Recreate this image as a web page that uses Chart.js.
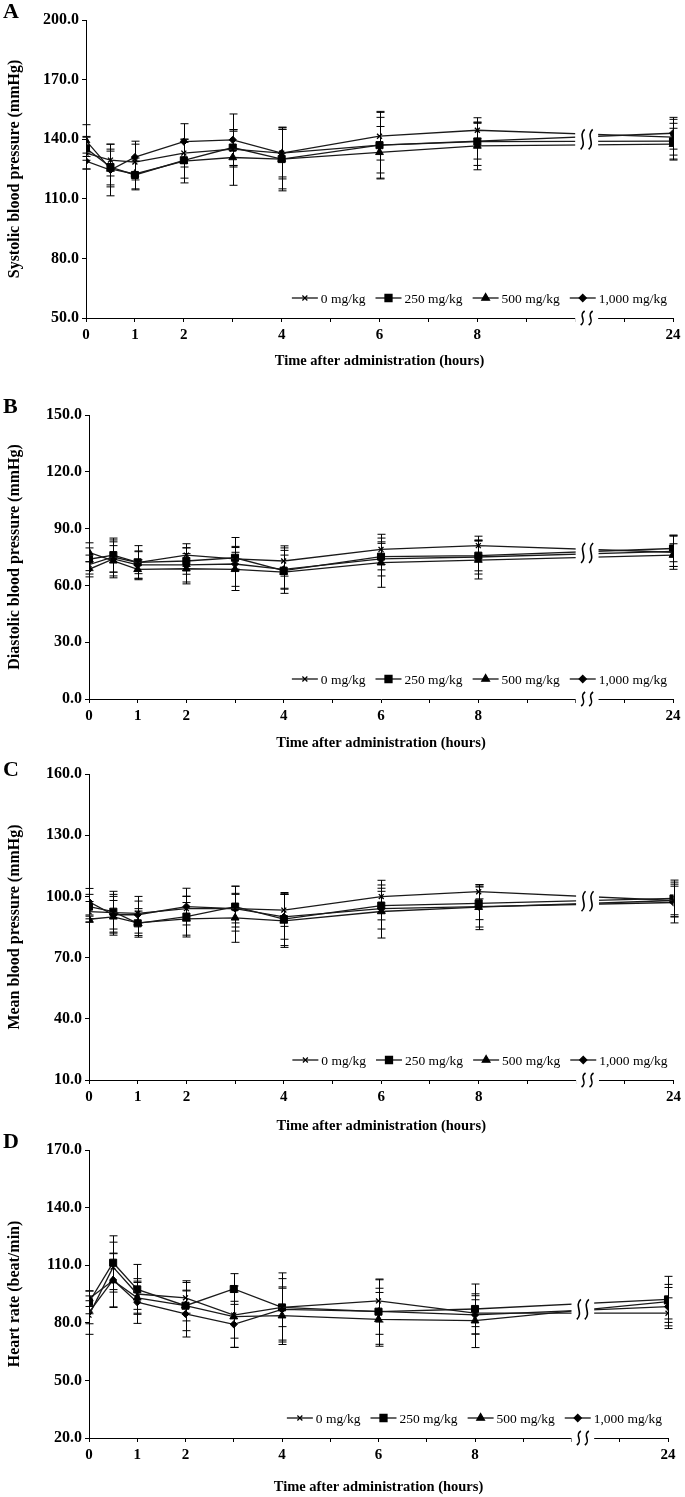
<!DOCTYPE html>
<html>
<head>
<meta charset="utf-8">
<script src="https://cdn.jsdelivr.net/npm/chart.js@4.4.1/dist/chart.umd.min.js"></script>
<style>
    body { margin: 0; background: #fff; width: 685px; height: 1497px; position: relative; overflow: hidden; }
    .panel { position: absolute; left: 0; width: 685px; }
</style>
</head>
<body>
<div class="panel" id="wrapA"><canvas id="chartA"></canvas></div>
<div class="panel" id="wrapB"><canvas id="chartB"></canvas></div>
<div class="panel" id="wrapC"><canvas id="chartC"></canvas></div>
<div class="panel" id="wrapD"><canvas id="chartD"></canvas></div>
<script>
// ================= DATOS =================
const times = [0, 0.5, 1, 2, 3, 4, 6, 8, 24];
const doseLabels = ['0 mg/kg', '250 mg/kg', '500 mg/kg', '1,000 mg/kg'];
const xTickLabels = { 0: '0', 1: '1', 2: '2', 4: '4', 6: '6', 8: '8', 12: '24' };

// A - systolic
const sbpTicks = [50, 80, 110, 140, 170, 200];
const sbp0    = [133, 129.5, 128.5, 133, 135, 133, 141.5, 144.5, 141];
const sbp250  = [135.4, 126, 122, 129.4, 135.8, 130, 137, 138.8, 139];
const sbp500  = [139.3, 125, 122.5, 129, 130.8, 130, 133.4, 136.6, 137.5];
const sbp1000 = [129, 124.5, 131, 138.8, 139.7, 133, 137, 139, 143];
const sbpSd0    = [8, 8, 9, 7, 9, 12, 12, 4, 9];
const sbpSd250  = [6, 9, 7, 9, 9, 15, 17, 12, 9];
const sbpSd500  = [8, 9, 8, 11, 14, 16, 13, 12, 8];
const sbpSd1000 = [4, 13, 8, 9, 13, 13, 14, 9, 8];

// B - diastolic
const dbpTicks = [0, 30, 60, 90, 120, 150];
const dbp0    = [71, 75, 72, 76, 74, 72.9, 79, 81, 77.5];
const dbp250  = [73.8, 76, 72.2, 72.9, 74.6, 67.8, 75.2, 75.7, 79.5];
const dbp500  = [77.5, 73, 68.5, 68.8, 68.5, 67, 72, 73.4, 76];
const dbp1000 = [68.5, 74, 70.8, 70.8, 71.3, 68.5, 74, 75, 78];
const dbpSd0    = [5, 8, 9, 6, 6, 8, 8, 5, 9];
const dbpSd250  = [6, 9, 6, 7, 6, 12, 7, 8, 7];
const dbpSd500  = [5, 8, 5, 8, 9, 9, 13, 10, 6];
const dbpSd1000 = [4, 10, 7, 9, 14, 10, 9, 9, 8];

// C - mean
const mapTicks = [10, 40, 70, 100, 130, 160];
const map0    = [92.5, 92, 91.7, 94, 94, 93.3, 99.9, 102.3, 98];
const map250  = [95, 92.5, 86.8, 90.1, 95, 88.9, 95.5, 96.6, 99];
const map500  = [88.8, 90, 87, 89, 89.5, 88, 92.6, 94.7, 98];
const map1000 = [97.4, 91, 91, 95, 94, 90, 94, 95, 97];
const mapSd0    = [5, 8, 6, 6, 7, 8, 8, 3.5, 7];
const mapSd250  = [6, 10, 6, 10, 10, 13, 7, 8, 9];
const mapSd500  = [1.5, 8, 7, 8, 12, 13, 13, 11, 8];
const mapSd1000 = [6.5, 10, 9, 9, 11, 11, 10, 10, 10];

// D - heart rate
const hrTicks = [20, 50, 80, 110, 140, 170];
const hr0    = [84, 109, 95, 93, 84, 88, 91.4, 85, 85];
const hr250  = [90.7, 111.3, 97.4, 88.9, 97.6, 88, 85.8, 87.2, 92.2];
const hr500  = [92.5, 102, 93, 89, 83.2, 83.7, 81.8, 81.1, 91];
const hr1000 = [85.5, 102.3, 90.7, 84.6, 79.2, 87, 86, 84.1, 88.4];
const hrSd0    = [10, 13, 8, 8, 12, 10, 11, 7, 8];
const hrSd250  = [6, 14, 13, 13, 8, 18, 17, 13, 12];
const hrSd500  = [4, 14, 8, 8, 16, 15, 14, 14, 9];
const hrSd1000 = [6, 14, 11, 12, 12, 16, 12, 10, 10];

// 24 h sits after the axis break, at position 12
const timeToPos = t => (t === 24 ? 12 : t);
const breakFrom = 10, breakTo = 10.47;

const SERIF = '"Liberation Serif", "Times New Roman", serif';
const markers = [
    { style: 'crossRot', r: 3.5, bw: 1.3 },
    { style: 'rect', r: 5, bw: 1 },
    { style: 'triangle', r: 4.5, bw: 1 },
    { style: 'rectRot', r: 3.6, bw: 1 }
];

const panels = [
    { id: 'A', top: 0, titleY: 362, letterY: 18, plot: { top: 20, bottom: 318, left: 86, right: 673 },
      yTitle: 'Systolic blood pressure (mmHg)', yTicks: sbpTicks,
      series: [sbp0, sbp250, sbp500, sbp1000], sd: [sbpSd0, sbpSd250, sbpSd500, sbpSd1000] },
    { id: 'B', top: 375, titleY: 744, letterY: 413, plot: { top: 415, bottom: 699, left: 89, right: 673 },
      yTitle: 'Diastolic blood pressure (mmHg)', yTicks: dbpTicks,
      series: [dbp0, dbp250, dbp500, dbp1000], sd: [dbpSd0, dbpSd250, dbpSd500, dbpSd1000] },
    { id: 'C', top: 755, titleY: 1127, letterY: 776, plot: { top: 774, bottom: 1080, left: 89, right: 674 },
      yTitle: 'Mean blood pressure (mmHg)', yTicks: mapTicks,
      series: [map0, map250, map500, map1000], sd: [mapSd0, mapSd250, mapSd500, mapSd1000] },
    { id: 'D', top: 1125, titleY: 1488, letterY: 1148, plot: { top: 1150, bottom: 1438, left: 89, right: 668 },
      yTitle: 'Heart rate (beat/min)', yTicks: hrTicks,
      series: [hr0, hr250, hr500, hr1000], sd: [hrSd0, hrSd250, hrSd500, hrSd1000] }
];

// ================= PLUGINS =================
function squiggle(ctx, cx, cy, h) {
    [-4, 4].forEach(dx => {
        const x = cx + dx;
        ctx.beginPath();
        ctx.moveTo(x + 2, cy - h / 2);
        ctx.bezierCurveTo(x - 5, cy - h / 6, x + 5, cy + h / 6, x - 2, cy + h / 2);
        ctx.stroke();
    });
}

const errorBreakPlugin = {
    id: 'errbreak',
    afterDatasetsDraw(chart, args, opts) {
        const { ctx, chartArea: { top, bottom }, scales: { x, y } } = chart;
        ctx.save();
        ctx.strokeStyle = '#000';
        ctx.lineWidth = 1;
        // error bars (mean ± SD)
        chart.data.datasets.forEach((ds, i) => {
            ds.data.forEach((pt, j) => {
                const sd = opts.sd[i][j];
                const px = Math.round(x.getPixelForValue(pt.x)) + 0.5;
                const y1 = y.getPixelForValue(pt.y + sd);
                const y2 = y.getPixelForValue(pt.y - sd);
                ctx.beginPath();
                ctx.moveTo(px, y1); ctx.lineTo(px, y2);
                ctx.moveTo(px - 4, y1); ctx.lineTo(px + 4, y1);
                ctx.moveTo(px - 4, y2); ctx.lineTo(px + 4, y2);
                ctx.stroke();
            });
        });
        // axis break
        const x1 = x.getPixelForValue(breakFrom);
        const x2 = x.getPixelForValue(breakTo);
        ctx.fillStyle = '#fff';
        ctx.fillRect(x1, top - 2, x2 - x1, bottom - top + 8);
        const mid = (breakFrom + breakTo) / 2;
        const f = (mid - 8) / 4;
        const vals = chart.data.datasets.map(ds => ds.data[7].y + (ds.data[8].y - ds.data[7].y) * f);
        const cy = y.getPixelForValue(vals.reduce((a, b) => a + b, 0) / vals.length);
        const cx = (x1 + x2) / 2;
        ctx.lineWidth = 1.6;
        squiggle(ctx, cx, cy, 20);
        squiggle(ctx, cx, bottom, 14);
        ctx.restore();
    },
    afterDraw(chart, args, opts) {
        const { ctx, chartArea } = chart;
        ctx.save();
        // panel letter
        ctx.fillStyle = '#000';
        ctx.font = 'bold 22px ' + SERIF;
        ctx.textBaseline = 'alphabetic';
        ctx.fillText(opts.letter, 3, opts.letterY);
        // legend inside the plot, bottom right
        ctx.font = '13.5px ' + SERIF;
        ctx.textBaseline = 'middle';
        const lineLen = 26, gapText = 3, gapItem = 10;
        const widths = doseLabels.map(l => ctx.measureText(l).width);
        const total = widths.reduce((a, w) => a + lineLen + gapText + w, 0) + gapItem * (doseLabels.length - 1);
        let lx = chartArea.right - 6 - total;
        const ly = chartArea.bottom - 20;
        doseLabels.forEach((lab, i) => {
            ctx.strokeStyle = '#000';
            ctx.lineWidth = 1.2;
            ctx.beginPath();
            ctx.moveTo(lx, ly); ctx.lineTo(lx + lineLen, ly);
            ctx.stroke();
            ctx.fillStyle = '#000';
            Chart.helpers.drawPoint(ctx, { pointStyle: markers[i].style, radius: markers[i].r, borderWidth: markers[i].bw, rotation: 0 }, lx + lineLen / 2, ly);
            ctx.fillStyle = '#000';
            ctx.fillText(lab, lx + lineLen + gapText, ly + 1);
            lx += lineLen + gapText + widths[i] + gapItem;
        });
        ctx.restore();
    }
};

// ================= GRÁFICAS =================
function crearPanel(p) {
    const wrap = document.getElementById('wrap' + p.id);
    const height = p.titleY + 10 - p.top;
    wrap.style.top = p.top + 'px';
    wrap.style.height = height + 'px';
    const canvas = document.getElementById('chart' + p.id);
    canvas.width = 685;
    canvas.height = height;

    const xHeight = p.titleY + 10 - p.plot.bottom;

    new Chart(canvas, {
        type: 'line',
        data: {
            datasets: doseLabels.map((lab, i) => ({
                label: lab,
                data: times.map((t, j) => ({ x: timeToPos(t), y: p.series[i][j] })),
                borderColor: '#1a1a1a',
                borderWidth: 1.3,
                pointStyle: markers[i].style,
                pointRadius: markers[i].r,
                pointBorderWidth: markers[i].bw,
                pointBackgroundColor: '#000',
                pointBorderColor: '#000',
                tension: 0,
                fill: false
            }))
        },
        options: {
            responsive: false,
            animation: false,
            devicePixelRatio: 1,
            layout: { padding: { left: 0, top: p.plot.top - p.top, right: 685 - p.plot.right, bottom: 0 } },
            plugins: {
                legend: { display: false },
                tooltip: { enabled: false },
                errbreak: { sd: p.sd, letter: p.id, letterY: p.letterY - p.top }
            },
            scales: {
                x: {
                    type: 'linear',
                    min: 0, max: 12,
                    offset: false,
                    afterFit: s => { s.height = xHeight; },
                    border: { display: true, color: '#000', width: 1 },
                    grid: { drawOnChartArea: false, drawTicks: true, tickLength: 4, tickColor: '#000' },
                    ticks: {
                        stepSize: 1, autoSkip: false, maxRotation: 0, padding: 4,
                        color: '#000', font: { family: SERIF, size: 15, weight: 'bold' },
                        callback: v => xTickLabels[v] ?? ''
                    },
                    title: {
                        display: true, text: 'Time after administration (hours)',
                        color: '#000', font: { family: SERIF, size: 14.5, weight: 'bold' },
                        padding: { top: 0, bottom: 2 }
                    }
                },
                y: {
                    min: p.yTicks[0], max: p.yTicks[p.yTicks.length - 1],
                    afterFit: s => { s.width = p.plot.left; },
                    afterBuildTicks: s => { s.ticks = p.yTicks.map(v => ({ value: v })); },
                    border: { display: true, color: '#000', width: 1 },
                    grid: { drawOnChartArea: false, drawTicks: true, tickLength: 4, tickColor: '#000' },
                    ticks: {
                        padding: 3, color: '#000',
                        font: { family: SERIF, size: 16, weight: 'bold' },
                        callback: v => v.toFixed(1)
                    },
                    title: {
                        display: true, text: p.yTitle,
                        color: '#000', font: { family: SERIF, size: 16, weight: 'bold' },
                        padding: { top: 5, bottom: 0 }
                    }
                }
            }
        },
        plugins: [errorBreakPlugin]
    });
}

// ================= INICIO =================
panels.forEach(crearPanel);
</script>
</body>
</html>
